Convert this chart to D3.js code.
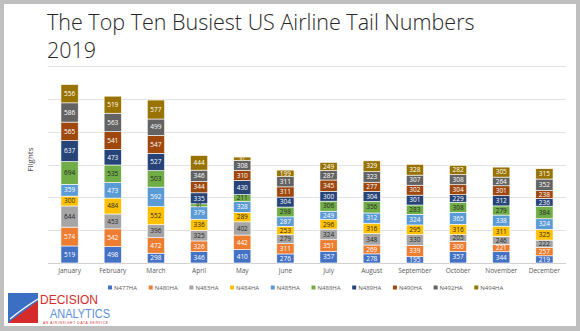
<!DOCTYPE html>
<html>
<head>
<meta charset="utf-8">
<script src="https://cdn.jsdelivr.net/npm/d3@7"></script>
<style>
  body { margin: 0; background: #bfbfbf; }
  svg { display: block; }
</style>
</head>
<body>
<div id="chart"></div>
<script>
/* DATA */
const months = ["January", "February", "March", "April", "May", "June", "July",
  "August", "September", "October", "November", "December"];
const tails = ["N477HA", "N480HA", "N483HA", "N484HA", "N485HA", "N488HA",
  "N489HA", "N490HA", "N492HA", "N494HA"];

const N477HA = [519, 498, 298, 346, 410, 276, 357, 278, 195, 357, 344, 219];
const N480HA = [574, 542, 472, 326, 442, 311, 351, 269, 339, 300, 221, 257];
const N483HA = [644, 453, 396, 325, 402, 279, 324, 348, 330, 205, 246, 222];
const N484HA = [300, 484, 552, 336, 289, 253, 296, 316, 295, 316, 311, 325];
const N485HA = [359, 473, 592, 379, 328, 287, 249, 312, 324, 365, 338, 324];
const N488HA = [694, 535, 503, 91, 211, 298, 306, 356, 283, 308, 279, 384];
const N489HA = [637, 473, 527, 335, 430, 304, 300, 304, 301, 229, 312, 236];
const N490HA = [565, 541, 547, 344, 310, 311, 345, 277, 302, 304, 301, 238];
const N492HA = [586, 563, 499, 346, 308, 311, 287, 323, 307, 308, 264, 352];
const N494HA = [556, 519, 577, 444, 97, 199, 249, 329, 328, 282, 305, 315];

const yTicks = [0, 1000, 2000, 3000, 4000, 5000, 6000];

/* CONSTANTS */
const width = 580, height = 331;
const margin = { top: 66, bottom: 68, left: 48, right: 14 };
const colors = ["#4472c4", "#ed7d31", "#a5a5a5", "#ffc000", "#5b9bd5",
  "#70ad47", "#264478", "#9e480e", "#636363", "#997300"];
const darkText = ["N483HA", "N484HA", "N488HA"]; // these get black labels

const seriesValues = [N477HA, N480HA, N483HA, N484HA, N485HA, N488HA,
  N489HA, N490HA, N492HA, N494HA];

// build table rows for d3.stack
const table = months.map((m, i) => {
  const row = { month: m };
  tails.forEach((t, j) => row[t] = seriesValues[j][i]);
  return row;
});

const stacked = d3.stack().keys(tails)(table);

const svg = d3.select("#chart").append("svg")
  .attr("width", width)
  .attr("height", height);

// white slide with gray frame
svg.append("rect")
  .attr("x", 4).attr("y", 4)
  .attr("width", 572).attr("height", 322)
  .attr("fill", "#fff");

// title
const title = svg.append("text")
  .attr("font-family", "'Open Sans', sans-serif")
  .attr("font-weight", 300)
  .attr("font-size", 21.5)
  .attr("fill", "#262626");
title.append("tspan").attr("x", 47).attr("y", 30).text("The Top Ten Busiest US Airline Tail Numbers");
title.append("tspan").attr("x", 47).attr("y", 58).text("2019");

/* SCALES */
const xScale = d3.scaleBand()
  .domain(months)
  .range([margin.left, width - margin.right])
  .paddingInner(0.6)
  .paddingOuter(0.3);

const yScale = d3.scaleLinear()
  .domain([0, 6000])
  .range([height - margin.bottom, margin.top]);

// gridlines
svg.append("g")
  .selectAll("line")
  .data(yTicks)
  .join("line")
  .attr("x1", margin.left)
  .attr("x2", width - margin.right)
  .attr("y1", d => Math.round(yScale(d)) + 0.5)
  .attr("y2", d => Math.round(yScale(d)) + 0.5)
  .attr("stroke", d => d === 0 ? "#d0d0d0" : "#e3e3e3")
  .attr("stroke-width", 1);

// x axis labels
const xAxis = d3.axisBottom(xScale).tickSize(0).tickPadding(5);
svg.append("g")
  .attr("transform", `translate(0, ${height - margin.bottom})`)
  .call(xAxis)
  .call(g => g.select(".domain").remove())
  .call(g => g.selectAll("text")
    .attr("font-family", "'Open Sans', sans-serif")
    .attr("font-size", 6.5)
    .attr("fill", "#595959"));

// y axis title
svg.append("text")
  .attr("transform", `translate(33, ${yScale(3150)}) rotate(-90)`)
  .attr("text-anchor", "middle")
  .attr("font-family", "'Open Sans', sans-serif")
  .attr("font-size", 8)
  .attr("fill", "#404040")
  .text("Flights");

/* BARS */
const layer = svg.append("g")
  .selectAll("g")
  .data(stacked)
  .join("g")
  .attr("fill", (d, i) => colors[i]);

layer.selectAll("rect")
  .data(d => d)
  .join("rect")
  .attr("x", d => xScale(d.data.month))
  .attr("width", xScale.bandwidth())
  .attr("y", d => yScale(d[1]))
  .attr("height", d => yScale(d[0]) - yScale(d[1]))
  .attr("stroke", "#fff")
  .attr("stroke-width", 0.6);

// labels go on top of every bar segment
const labelData = stacked.flatMap(s => s.map(v => ({ v, key: s.key })));
svg.append("g")
  .selectAll("text")
  .data(labelData)
  .join("text")
  .attr("x", d => xScale(d.v.data.month) + xScale.bandwidth() / 2)
  .attr("y", d => (yScale(d.v[0]) + yScale(d.v[1])) / 2)
  .attr("dy", "0.35em")
  .attr("text-anchor", "middle")
  .attr("font-family", "'Open Sans', sans-serif")
  .attr("font-size", d => (d.v[1] - d.v[0]) < 150 ? 5 : 6.5)
  .attr("fill", d => darkText.includes(d.key) ? "#262626" : "#fff")
  .text(d => d.v[1] - d.v[0]);

/* LEGEND */
const legend = svg.append("g")
  .selectAll("g")
  .data(tails)
  .join("g")
  .attr("transform", (d, i) => `translate(${108 + i * 40.7}, 288)`);

legend.append("rect")
  .attr("x", 0).attr("y", -2.5)
  .attr("width", 4).attr("height", 4)
  .attr("fill", (d, i) => colors[i]);

legend.append("text")
  .attr("x", 6)
  .attr("dy", "0.3em")
  .attr("font-family", "'Open Sans', sans-serif")
  .attr("font-size", 6)
  .attr("fill", "#595959")
  .text(d => d);

/* LOGO */
const logo = svg.append("g").attr("transform", "translate(8, 293)");
logo.append("rect").attr("x", 0).attr("y", 0).attr("width", 30).attr("height", 30).attr("fill", "#3a6fc4");
logo.append("path").attr("d", "M0,30 L30,8 L30,30 Z").attr("fill", "#d52b2b");
logo.append("path").attr("d", "M2,26 Q14,16 30,6").attr("stroke", "#fff").attr("stroke-width", 1.2).attr("fill", "none");
logo.append("text")
  .attr("x", 32).attr("y", 11)
  .attr("font-family", "'Liberation Sans Narrow', 'Liberation Sans', sans-serif")
  .attr("font-size", 12)
  .attr("textLength", 58)
  .attr("lengthAdjust", "spacingAndGlyphs")
  .attr("fill", "#d52b2b")
  .text("DECISION");
logo.append("text")
  .attr("x", 42).attr("y", 25)
  .attr("font-family", "'Liberation Sans Narrow', 'Liberation Sans', sans-serif")
  .attr("font-size", 12)
  .attr("textLength", 60)
  .attr("lengthAdjust", "spacingAndGlyphs")
  .attr("fill", "#5b8fd6")
  .text("ANALYTICS");
logo.append("text")
  .attr("x", 35).attr("y", 30.5)
  .attr("font-family", "'Liberation Sans', sans-serif")
  .attr("font-size", 3.2)
  .attr("textLength", 65)
  .attr("fill", "#d52b2b")
  .text("AN AIRINSIGHT DATA SERVICE");
</script>
</body>
</html>
